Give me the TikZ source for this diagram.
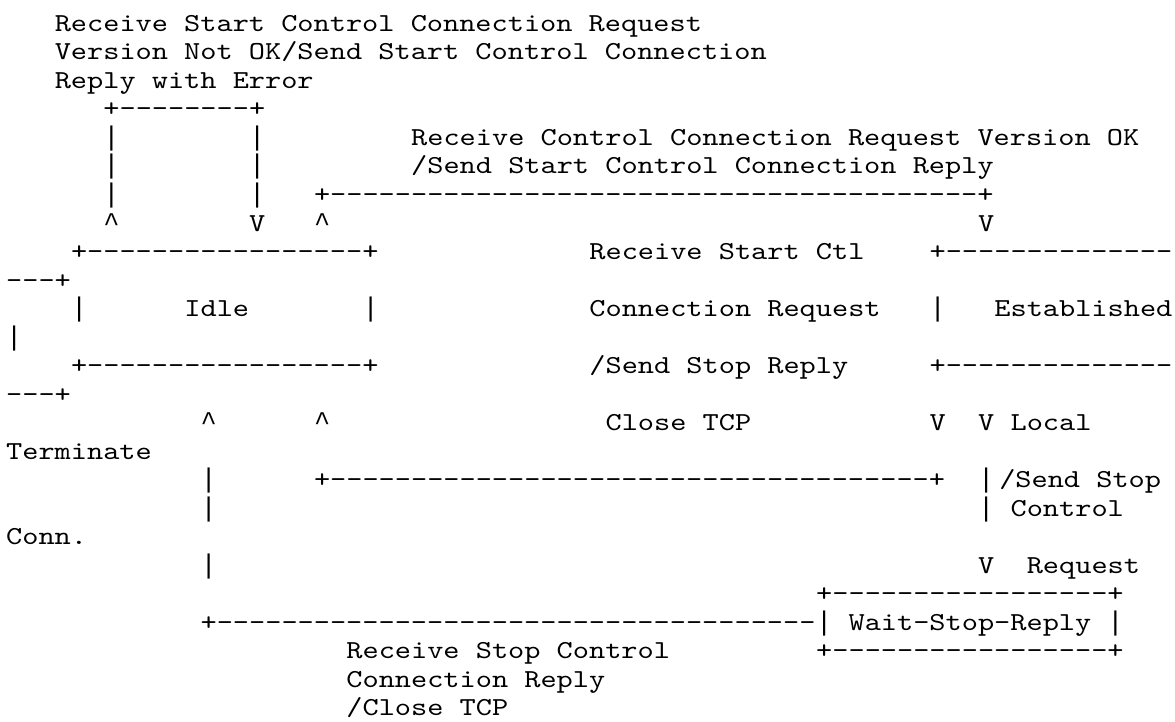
\documentclass[tikz,border=0pt]{standalone}
\usepackage{fontspec}
\setmonofont{lmmono10-regular.otf}[FakeStretch=1.19]
\newfontfamily\barfont{Liberation Mono}
\ExplSyntaxOn
\NewDocumentCommand\dd{m}{\prg_replicate:nn{#1}{-}}
\ExplSyntaxOff
\newcommand\cw{16.2}
\newcommand\lp{28.5}
\newcommand\tx[4]{\node[asc] (#1) at ({6.2+#2*\cw},{-(31.5+#3*\lp)}) {#4};}
\newcommand\up{{\barfont\fontsize{27}{27}\selectfont\textasciicircum}}
\newcommand\vb{{\barfont\fontsize{27}{27}\selectfont|}}
\begin{document}
\begin{tikzpicture}[x=1pt,y=1pt,
  asc/.style={font=\ttfamily\fontsize{25.9}{26}\selectfont, inner sep=0pt, outer sep=0pt, anchor=base west, text=black}]
\useasboundingbox (0,0) rectangle (1175,-722);
\fill[white] (0,0) rectangle (1175,-722);
\tx{a1}{3}{0}{Receive Start Control Connection Request}
\tx{a2}{3}{1}{Version Not OK/Send Start Control Connection}
\tx{a3}{3}{2}{Reply with Error}
\tx{loopTop}{6}{3}{+\dd{8}+}
\tx{l4a}{6}{4}{\vb} \tx{l4b}{15}{4}{\vb} \tx{l4c}{25}{4}{Receive Control Connection Request Version OK}
\tx{l5a}{6}{5}{\vb} \tx{l5b}{15}{5}{\vb} \tx{l5c}{25}{5}{/Send Start Control Connection Reply}
\tx{l6a}{6}{6}{\vb} \tx{l6b}{15}{6}{\vb} \tx{l6c}{19}{6}{+\dd{40}+}
\tx{l7a}{6}{7}{\up} \tx{l7b}{15}{7}{V} \tx{l7c}{19}{7}{\up} \tx{l7d}{60}{7}{V}
\tx{idleTop}{4}{8}{+\dd{17}+} \tx{l8b}{36}{8}{Receive Start Ctl} \tx{estTop}{57}{8}{+\dd{14}}
\tx{estTopW}{0}{9}{\dd{3}+}
\tx{idleL}{4}{10}{\vb} \tx{idle}{11}{10}{Idle} \tx{idleR}{22}{10}{\vb} \tx{l10}{36}{10}{Connection Request} \tx{estL}{57}{10}{\vb} \tx{est}{61}{10}{Established}
\tx{estRW}{0}{11}{\vb}
\tx{idleBot}{4}{12}{+\dd{17}+} \tx{l12}{36}{12}{/Send Stop Reply} \tx{estBot}{57}{12}{+\dd{14}}
\tx{estBotW}{0}{13}{\dd{3}+}
\tx{l14a}{12}{14}{\up} \tx{l14b}{19}{14}{\up} \tx{l14c}{37}{14}{Close TCP} \tx{l14d}{57}{14}{V} \tx{l14e}{60}{14}{V} \tx{l14f}{62}{14}{Local}
\tx{l15}{0}{15}{Terminate}
\tx{l16a}{12}{16}{\vb} \tx{l16b}{19}{16}{+\dd{37}+} \tx{l16c}{60}{16}{\vb} \tx{l16d}{61.3}{16}{/Send Stop}
\tx{l17a}{12}{17}{\vb} \tx{l17b}{60}{17}{\vb} \tx{l17c}{62}{17}{Control}
\tx{l18}{0}{18}{Conn.}
\tx{l19a}{12}{19}{\vb} \tx{l19b}{60}{19}{V} \tx{l19c}{63}{19}{Request}
\tx{wsTop}{50}{20}{+\dd{17}+}
\tx{l21a}{12}{21}{+\dd{37}} \tx{ws}{50}{21}{\vb{} Wait-Stop-Reply \vb}
\tx{l22a}{21}{22}{Receive Stop Control} \tx{wsBot}{50}{22}{+\dd{17}+}
\tx{l23}{21}{23}{Connection Reply}
\tx{l24}{21}{24}{/Close TCP}
\end{tikzpicture}
\end{document}
